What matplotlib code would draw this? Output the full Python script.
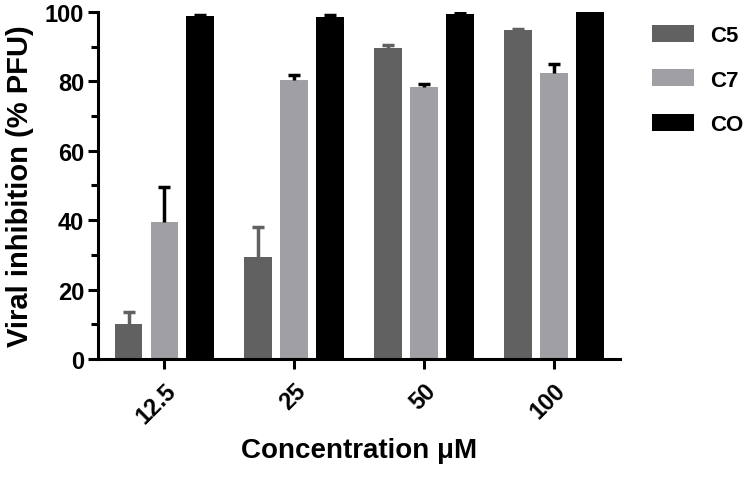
import numpy as np
import matplotlib
matplotlib.use("Agg")
import matplotlib.pyplot as plt

plt.rcParams["font.family"] = ["Liberation Sans", "DejaVu Sans"]
plt.rcParams["font.weight"] = "bold"

# --- данные ---
conc = ["12.5", "25", "50", "100"]
c5 = [10.2, 29.3, 89.5, 94.7]
c5_err = [3.4, 8.7, 1.0, 0.4]
c7 = [39.5, 80.3, 78.3, 82.5]
c7_err = [10.2, 1.4, 1.0, 2.6]
co = [98.8, 98.5, 99.4, 100.0]
co_err = [0.4, 0.7, 0.3, 0.3]

series = [("C5", c5, c5_err, "#616161", "#616161"),
          ("C7", c7, c7_err, "#a0a0a4", "black"),
          ("CO", co, co_err, "black", "black")]

fig = plt.figure(figsize=(7.5, 4.81), dpi=100)
ax = fig.add_axes([0.131, 0.2516, 0.696, 0.7214])

x = np.arange(len(conc))
step = 0.277
width = 0.215

for i, (name, vals, errs, col, ecol) in enumerate(series):
    pos = x + (i - 1) * step
    ax.bar(pos, vals, width, color=col, label=name, zorder=2)
    # только верхняя половина error bar, как в Prism
    eb = ax.errorbar(pos, vals, yerr=[np.zeros(len(errs)), errs], fmt="none",
                     ecolor=ecol, elinewidth=2.5, capsize=4, capthick=2.5, zorder=3)
    eb[1][0].set_visible(False)

ax.set_xlim(-0.51, 3.51)
ax.set_ylim(0, 100)
ax.set_yticks(range(0, 101, 20))
ax.set_yticks(range(10, 100, 20), minor=True)
ax.set_xticks(x)
ax.set_xticklabels(conc, rotation=45, ha="right", rotation_mode="anchor")

for s in ["top", "right"]:
    ax.spines[s].set_visible(False)
for s in ["left", "bottom"]:
    ax.spines[s].set_linewidth(2.2)

ax.tick_params(axis="both", which="major", width=2.2, length=7, labelsize=17, pad=3)
ax.tick_params(axis="x", which="major", pad=7)
ax.tick_params(axis="y", which="minor", width=2.2, length=5)

ax.set_ylabel("Viral inhibition (% PFU)", fontsize=21, fontweight="bold", labelpad=8)
ax.set_xlabel("Concentration \u03bcM", fontsize=20, fontweight="bold", labelpad=7)

fig.legend(loc="upper left", bbox_to_anchor=(0.858, 0.965), frameon=False,
           fontsize=16, handlelength=1.85, handleheight=0.8, labelspacing=1.05,
           handletextpad=0.75, borderaxespad=0)

fig.savefig("out.png", dpi=100)
